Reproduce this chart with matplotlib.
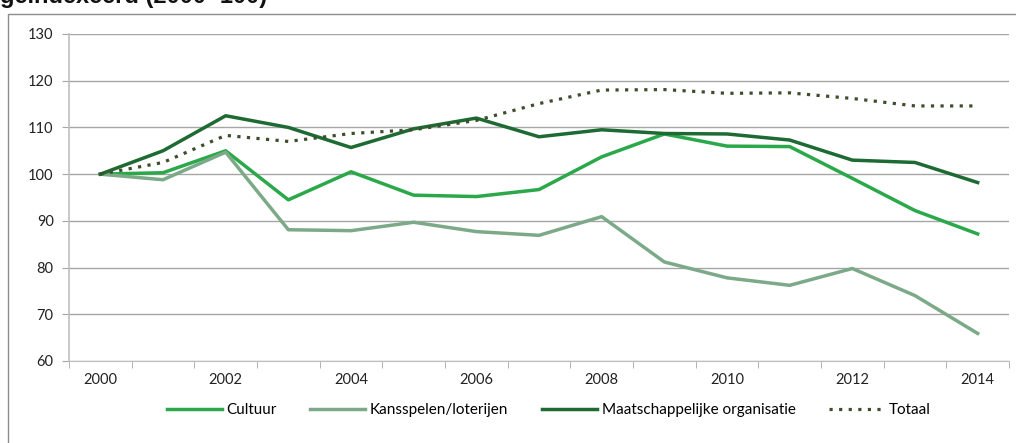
import numpy as np
import matplotlib
matplotlib.use("Agg")
import matplotlib.pyplot as plt
from matplotlib.patches import Rectangle

plt.rcParams['font.family'] = ['Lato', 'DejaVu Sans']

years = list(range(2000, 2015))
cultuur = [100, 100.3, 105, 94.5, 100.5, 95.5, 95.2, 96.7, 103.7, 108.6, 106.0, 105.9, 99.1, 92.2, 87.2]
kansspelen = [100, 98.8, 104.7, 88.1, 87.9, 89.7, 87.7, 86.9, 90.9, 81.2, 77.8, 76.2, 79.8, 74.0, 65.9]
maatschappelijk = [100, 105.0, 112.5, 110.0, 105.7, 109.7, 112.0, 108.0, 109.5, 108.7, 108.6, 107.3, 103.0, 102.5, 98.2]
totaal = [100, 102.5, 108.3, 107.0, 108.7, 109.5, 111.5, 115.1, 118.0, 118.1, 117.3, 117.4, 116.2, 114.6, 114.6]
yticks = [60, 70, 80, 90, 100, 110, 120, 130]
xlabels = [str(y) if y % 2 == 0 else '' for y in years]

fig = plt.figure(figsize=(10.16, 4.43), dpi=100)
ax = fig.add_axes([69/1016, 1-361/443, 940/1016, (361-34)/443])

x = np.arange(len(years))
ax.plot(x, cultuur, color='#2aa84a', lw=2.5, label='Cultuur', zorder=3)
ax.plot(x, kansspelen, color='#7caa88', lw=2.5, label='Kansspelen/loterijen', zorder=3)
ax.plot(x, maatschappelijk, color='#1d6a33', lw=2.5, label='Maatschappelijke organisatie', zorder=3)
ax.plot(x, totaal, color='#3e4d2b', lw=2.3, ls=(0, (1, 2)), label='Totaal', zorder=3)

ax.set_xlim(-0.5, 14.5)
ax.set_ylim(60, 130)
ax.set_yticks(yticks)
ax.set_xticks(x)
ax.set_xticklabels(xlabels)
ax.set_xticks(np.arange(-0.5, 15, 1), minor=True)
ax.tick_params(axis='x', which='major', length=0, pad=9, labelsize=10.5, colors='#222222')
ax.tick_params(axis='x', which='minor', length=5, color='#a6a6a6', direction='out')
ax.tick_params(axis='y', length=5, labelsize=10.5, pad=6, colors='#a6a6a6', labelcolor='#222222')
ax.grid(axis='y', color='#a6a6a6', lw=1)
ax.set_axisbelow(True)
for s in ['top', 'right']:
    ax.spines[s].set_visible(False)
ax.spines['left'].set_color('#bfbfbf')
ax.spines['bottom'].set_color('#bfbfbf')
ax.spines['left'].set_linewidth(1.2)

leg = fig.legend(loc='center', bbox_to_anchor=(0.54, 1-410/443), ncol=4, frameon=False,
                 fontsize=11, handlelength=3.6, handletextpad=0.3, columnspacing=2.2)

fig.patches.append(Rectangle((8/1016, -0.01), 1.1, 1-14/443+0.01, transform=fig.transFigure,
                             fill=False, edgecolor='#8c8c8c', lw=1))
fig.text(0.0, 1.008, 'geïndexeerd (2000=100)', fontsize=17, fontweight='bold',
         ha='left', va='center', color='#111111', family=['Liberation Sans', 'DejaVu Sans'])

fig.savefig('out.png', dpi=100)
